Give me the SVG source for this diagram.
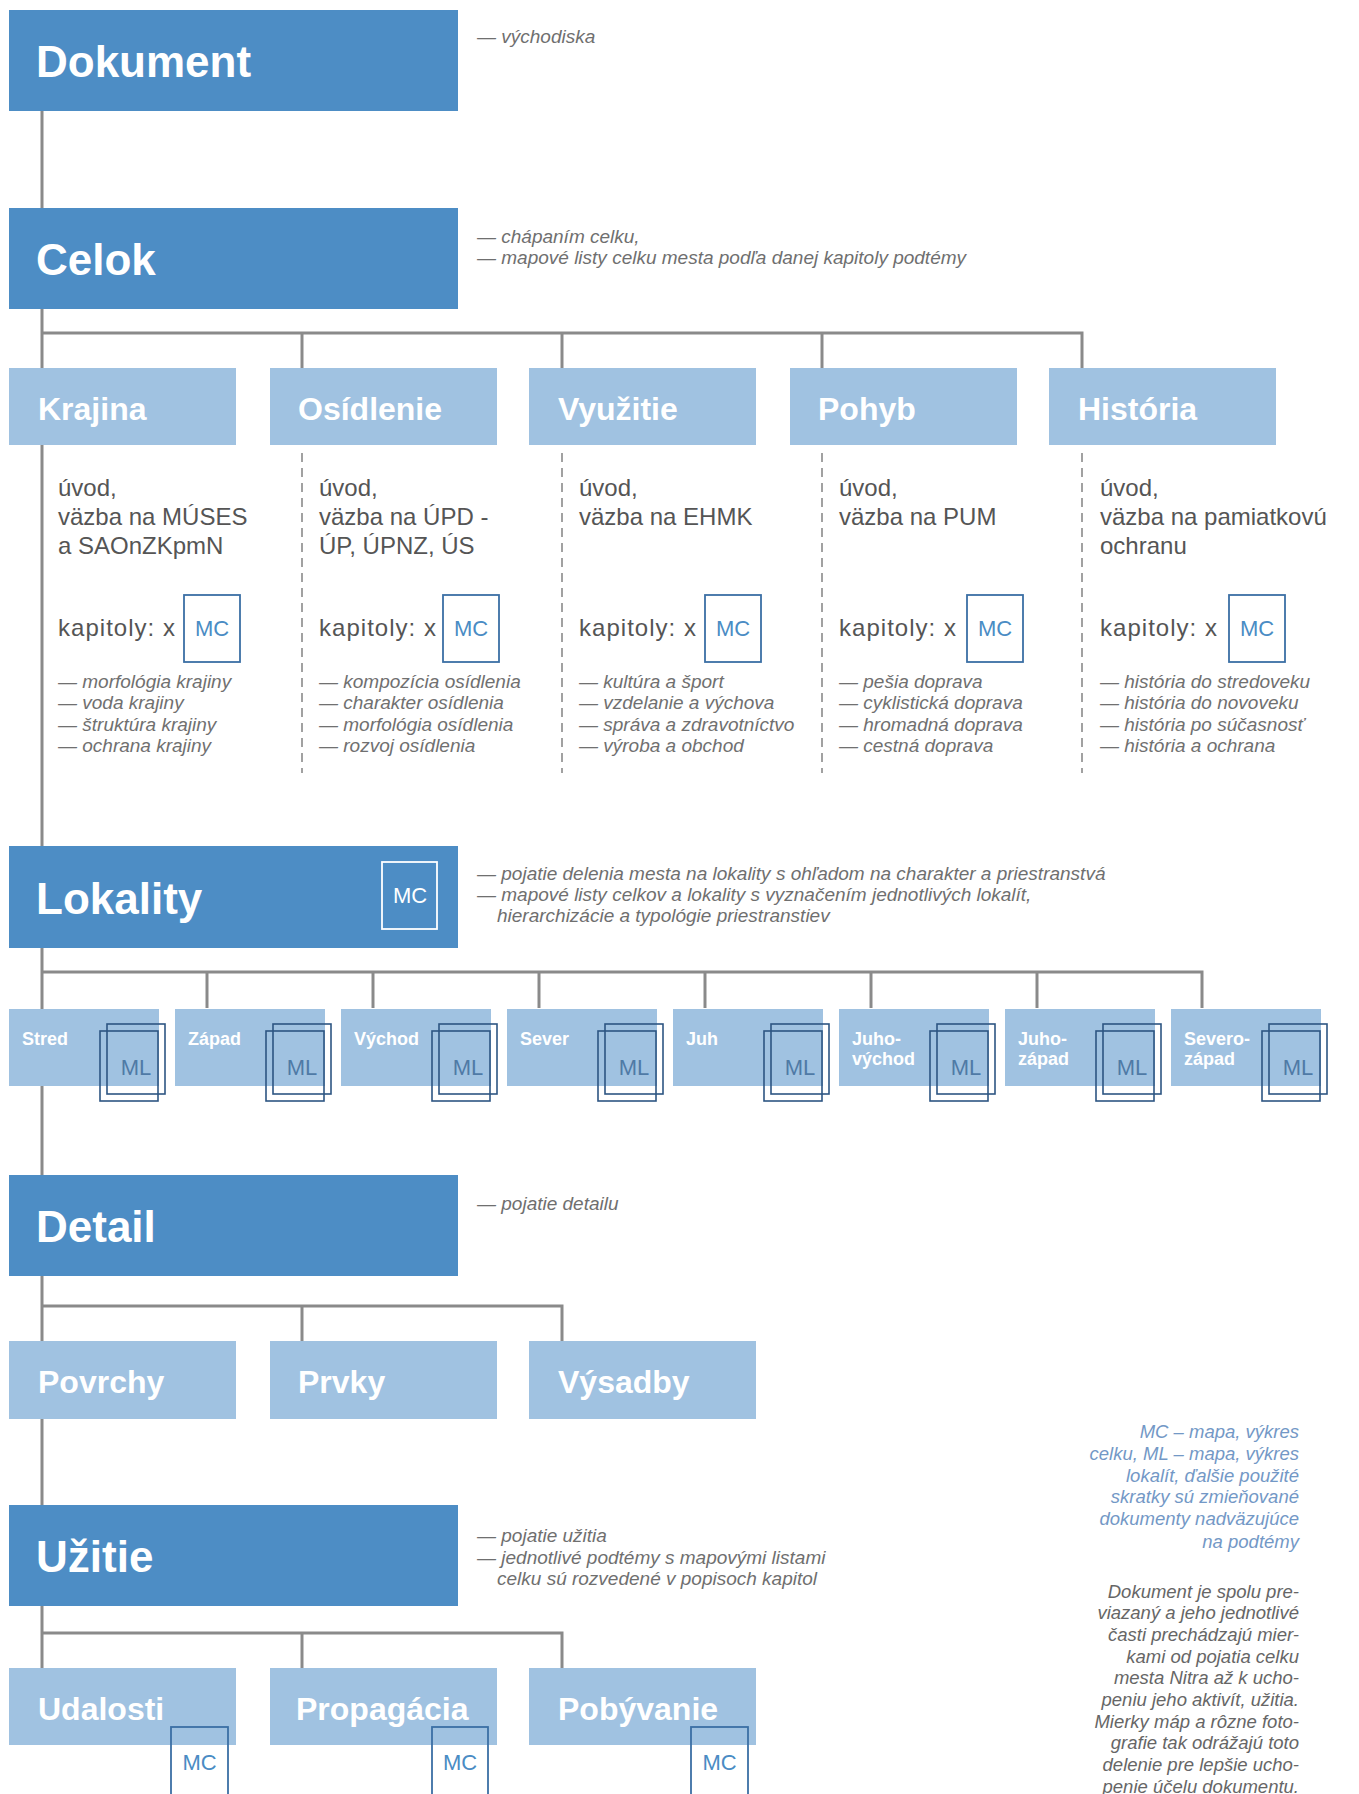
<svg xmlns="http://www.w3.org/2000/svg" width="1359" height="1794" viewBox="0 0 1359 1794">
<style>
.main{fill:#4d8dc5}
.sub{fill:#a0c2e1}
.t1{font-family:"Liberation Sans",Arial,sans-serif;font-weight:bold;font-size:44px;fill:#ffffff}
.t2{font-family:"Liberation Sans",Arial,sans-serif;font-weight:bold;font-size:32px;fill:#ffffff}
.t3{font-family:"Liberation Sans",Arial,sans-serif;font-weight:bold;font-size:18px;fill:#ffffff}
.ann{font-family:"Liberation Sans",Arial,sans-serif;font-style:italic;font-size:19px;fill:#6f6f6f}
.col{font-family:"Liberation Sans",Arial,sans-serif;font-size:24px;fill:#555555}
.li{font-family:"Liberation Sans",Arial,sans-serif;font-style:italic;font-size:19px;fill:#707070}
.mc{font-family:"Liberation Sans",Arial,sans-serif;font-size:22px;fill:#4a8cc4;text-anchor:middle}
.mcw{font-family:"Liberation Sans",Arial,sans-serif;font-size:22px;fill:#ffffff;text-anchor:middle}
.ml{font-family:"Liberation Sans",Arial,sans-serif;font-size:22px;fill:#4f7aa6;text-anchor:middle}
.mcb{fill:none;stroke:#3b6fa5;stroke-width:1.8}
.mlb{fill:none;stroke:#2d5583;stroke-width:1.6}
.ln{stroke:#8a8a8a;stroke-width:3;fill:none}
.dash{stroke:#8a8a8a;stroke-width:1.6;stroke-dasharray:9 6;fill:none}
.fn1{font-family:"Liberation Sans",Arial,sans-serif;font-style:italic;font-size:18.5px;fill:#7398c6;text-anchor:end}
.fn2{font-family:"Liberation Sans",Arial,sans-serif;font-style:italic;font-size:18.5px;fill:#666666;text-anchor:end}
</style>
<rect width="1359" height="1794" fill="#ffffff"/>
<g id="connectors">
<line class="ln" x1="42" y1="111" x2="42" y2="1668"/>
<polyline class="ln" points="42,333 1082,333 1082,368"/>
<line class="ln" x1="302" y1="333" x2="302" y2="368"/>
<line class="ln" x1="562" y1="333" x2="562" y2="368"/>
<line class="ln" x1="822" y1="333" x2="822" y2="368"/>
<line class="dash" x1="302" y1="453" x2="302" y2="773"/>
<line class="dash" x1="562" y1="453" x2="562" y2="773"/>
<line class="dash" x1="822" y1="453" x2="822" y2="773"/>
<line class="dash" x1="1082" y1="453" x2="1082" y2="773"/>
<polyline class="ln" points="42,972 1202,972 1202,1008"/>
<line class="ln" x1="207" y1="972" x2="207" y2="1008"/>
<line class="ln" x1="373" y1="972" x2="373" y2="1008"/>
<line class="ln" x1="539" y1="972" x2="539" y2="1008"/>
<line class="ln" x1="705" y1="972" x2="705" y2="1008"/>
<line class="ln" x1="871" y1="972" x2="871" y2="1008"/>
<line class="ln" x1="1037" y1="972" x2="1037" y2="1008"/>
<polyline class="ln" points="42,1306 562,1306 562,1341"/>
<line class="ln" x1="302" y1="1306" x2="302" y2="1341"/>
<polyline class="ln" points="42,1633 562,1633 562,1668"/>
<line class="ln" x1="302" y1="1633" x2="302" y2="1668"/>
</g>
<g id="dokument">
<rect class="main" x="9" y="10" width="449" height="101"/>
<text class="t1" x="36" y="77">Dokument</text>
<text class="ann" x="477" y="43">— východiska</text>
</g>
<g id="celok">
<rect class="main" x="9" y="208" width="449" height="101"/>
<text class="t1" x="36" y="275">Celok</text>
<text class="ann" x="477" y="243">— chápaním celku,</text>
<text class="ann" x="477" y="264">— mapové listy celku mesta podľa danej kapitoly podtémy</text>
</g>
<g id="krajina">
<rect class="sub" x="9" y="368" width="227" height="77"/>
<text class="t2" x="38" y="420">Krajina</text>
<text class="col" x="58" y="496">úvod,</text>
<text class="col" x="58" y="525">väzba na MÚSES</text>
<text class="col" x="58" y="554">a SAOnZKpmN</text>
<text class="col" x="58" y="636" textLength="117">kapitoly: x</text>
<rect class="mcb" x="184" y="595" width="56" height="67"/>
<text class="mc" x="212" y="636">MC</text>
<text class="li" x="58" y="688">— morfológia krajiny</text>
<text class="li" x="58" y="709">— voda krajiny</text>
<text class="li" x="58" y="731">— štruktúra krajiny</text>
<text class="li" x="58" y="752">— ochrana krajiny</text>
</g>
<g id="osidlenie">
<rect class="sub" x="270" y="368" width="227" height="77"/>
<text class="t2" x="298" y="420">Osídlenie</text>
<text class="col" x="319" y="496">úvod,</text>
<text class="col" x="319" y="525">väzba na ÚPD -</text>
<text class="col" x="319" y="554">ÚP, ÚPNZ, ÚS</text>
<text class="col" x="319" y="636" textLength="117">kapitoly: x</text>
<rect class="mcb" x="443" y="595" width="56" height="67"/>
<text class="mc" x="471" y="636">MC</text>
<text class="li" x="319" y="688">— kompozícia osídlenia</text>
<text class="li" x="319" y="709">— charakter osídlenia</text>
<text class="li" x="319" y="731">— morfológia osídlenia</text>
<text class="li" x="319" y="752">— rozvoj osídlenia</text>
</g>
<g id="vyuzitie">
<rect class="sub" x="529" y="368" width="227" height="77"/>
<text class="t2" x="558" y="420">Využitie</text>
<text class="col" x="579" y="496">úvod,</text>
<text class="col" x="579" y="525">väzba na EHMK</text>
<text class="col" x="579" y="636" textLength="117">kapitoly: x</text>
<rect class="mcb" x="705" y="595" width="56" height="67"/>
<text class="mc" x="733" y="636">MC</text>
<text class="li" x="579" y="688">— kultúra a šport</text>
<text class="li" x="579" y="709">— vzdelanie a výchova</text>
<text class="li" x="579" y="731">— správa a zdravotníctvo</text>
<text class="li" x="579" y="752">— výroba a obchod</text>
</g>
<g id="pohyb">
<rect class="sub" x="790" y="368" width="227" height="77"/>
<text class="t2" x="818" y="420">Pohyb</text>
<text class="col" x="839" y="496">úvod,</text>
<text class="col" x="839" y="525">väzba na PUM</text>
<text class="col" x="839" y="636" textLength="117">kapitoly: x</text>
<rect class="mcb" x="967" y="595" width="56" height="67"/>
<text class="mc" x="995" y="636">MC</text>
<text class="li" x="839" y="688">— pešia doprava</text>
<text class="li" x="839" y="709">— cyklistická doprava</text>
<text class="li" x="839" y="731">— hromadná doprava</text>
<text class="li" x="839" y="752">— cestná doprava</text>
</g>
<g id="historia">
<rect class="sub" x="1049" y="368" width="227" height="77"/>
<text class="t2" x="1078" y="420">História</text>
<text class="col" x="1100" y="496">úvod,</text>
<text class="col" x="1100" y="525">väzba na pamiatkovú</text>
<text class="col" x="1100" y="554">ochranu</text>
<text class="col" x="1100" y="636" textLength="117">kapitoly: x</text>
<rect class="mcb" x="1229" y="595" width="56" height="67"/>
<text class="mc" x="1257" y="636">MC</text>
<text class="li" x="1100" y="688">— história do stredoveku</text>
<text class="li" x="1100" y="709">— história do novoveku</text>
<text class="li" x="1100" y="731">— história po súčasnosť</text>
<text class="li" x="1100" y="752">— história a ochrana</text>
</g>
<g id="lokality">
<rect class="main" x="9" y="846" width="449" height="102"/>
<text class="t1" x="36" y="914">Lokality</text>
<rect x="382" y="862" width="55" height="67" fill="none" stroke="#ffffff" stroke-width="1.8"/>
<text class="mcw" x="410" y="903">MC</text>
<text class="ann" x="477" y="880">— pojatie delenia mesta na lokality s ohľadom na charakter a priestranstvá</text>
<text class="ann" x="477" y="901">— mapové listy celkov a lokality s vyznačením jednotlivých lokalít,</text>
<text class="ann" x="497" y="922">hierarchizácie a typológie priestranstiev</text>
</g>
<g id="stred">
<rect class="sub" x="9" y="1009" width="150" height="77"/>
<text class="t3" x="22" y="1045">Stred</text>
<rect class="mlb" x="100" y="1031" width="58" height="70"/>
<rect class="mlb" x="107" y="1024" width="58" height="70"/>
<text class="ml" x="136" y="1075">ML</text>
</g>
<g id="zapad">
<rect class="sub" x="175" y="1009" width="150" height="77"/>
<text class="t3" x="188" y="1045">Západ</text>
<rect class="mlb" x="266" y="1031" width="58" height="70"/>
<rect class="mlb" x="273" y="1024" width="58" height="70"/>
<text class="ml" x="302" y="1075">ML</text>
</g>
<g id="vychod">
<rect class="sub" x="341" y="1009" width="150" height="77"/>
<text class="t3" x="354" y="1045">Východ</text>
<rect class="mlb" x="432" y="1031" width="58" height="70"/>
<rect class="mlb" x="439" y="1024" width="58" height="70"/>
<text class="ml" x="468" y="1075">ML</text>
</g>
<g id="sever">
<rect class="sub" x="507" y="1009" width="150" height="77"/>
<text class="t3" x="520" y="1045">Sever</text>
<rect class="mlb" x="598" y="1031" width="58" height="70"/>
<rect class="mlb" x="605" y="1024" width="58" height="70"/>
<text class="ml" x="634" y="1075">ML</text>
</g>
<g id="juh">
<rect class="sub" x="673" y="1009" width="150" height="77"/>
<text class="t3" x="686" y="1045">Juh</text>
<rect class="mlb" x="764" y="1031" width="58" height="70"/>
<rect class="mlb" x="771" y="1024" width="58" height="70"/>
<text class="ml" x="800" y="1075">ML</text>
</g>
<g id="juhovychod">
<rect class="sub" x="839" y="1009" width="150" height="77"/>
<text class="t3" x="852" y="1045">Juho-</text>
<text class="t3" x="852" y="1065">východ</text>
<rect class="mlb" x="930" y="1031" width="58" height="70"/>
<rect class="mlb" x="937" y="1024" width="58" height="70"/>
<text class="ml" x="966" y="1075">ML</text>
</g>
<g id="juhozapad">
<rect class="sub" x="1005" y="1009" width="150" height="77"/>
<text class="t3" x="1018" y="1045">Juho-</text>
<text class="t3" x="1018" y="1065">západ</text>
<rect class="mlb" x="1096" y="1031" width="58" height="70"/>
<rect class="mlb" x="1103" y="1024" width="58" height="70"/>
<text class="ml" x="1132" y="1075">ML</text>
</g>
<g id="severozapad">
<rect class="sub" x="1171" y="1009" width="150" height="77"/>
<text class="t3" x="1184" y="1045">Severo-</text>
<text class="t3" x="1184" y="1065">západ</text>
<rect class="mlb" x="1262" y="1031" width="58" height="70"/>
<rect class="mlb" x="1269" y="1024" width="58" height="70"/>
<text class="ml" x="1298" y="1075">ML</text>
</g>
<g id="detail">
<rect class="main" x="9" y="1175" width="449" height="101"/>
<text class="t1" x="36" y="1242">Detail</text>
<text class="ann" x="477" y="1210">— pojatie detailu</text>
</g>
<g id="povrchy">
<rect class="sub" x="9" y="1341" width="227" height="78"/>
<text class="t2" x="38" y="1393">Povrchy</text>
</g>
<g id="prvky">
<rect class="sub" x="270" y="1341" width="227" height="78"/>
<text class="t2" x="298" y="1393">Prvky</text>
</g>
<g id="vysadby">
<rect class="sub" x="529" y="1341" width="227" height="78"/>
<text class="t2" x="558" y="1393">Výsadby</text>
</g>
<g id="uzitie">
<rect class="main" x="9" y="1505" width="449" height="101"/>
<text class="t1" x="36" y="1572">Užitie</text>
<text class="ann" x="477" y="1542">— pojatie užitia</text>
<text class="ann" x="477" y="1564">— jednotlivé podtémy s mapovými listami</text>
<text class="ann" x="497" y="1585">celku sú rozvedené v popisoch kapitol</text>
</g>
<g id="udalosti">
<rect class="sub" x="9" y="1668" width="227" height="77"/>
<text class="t2" x="38" y="1720">Udalosti</text>
<rect class="mcb" x="171" y="1727" width="57" height="72"/>
<text class="mc" x="199.5" y="1770">MC</text>
</g>
<g id="propagacia">
<rect class="sub" x="270" y="1668" width="227" height="77"/>
<text class="t2" x="296" y="1720">Propagácia</text>
<rect class="mcb" x="432" y="1727" width="56" height="72"/>
<text class="mc" x="460" y="1770">MC</text>
</g>
<g id="pobyvanie">
<rect class="sub" x="529" y="1668" width="227" height="77"/>
<text class="t2" x="558" y="1720">Pobývanie</text>
<rect class="mcb" x="691" y="1727" width="57" height="72"/>
<text class="mc" x="719.5" y="1770">MC</text>
</g>
<g id="footnote">
<text class="fn1" x="1299" y="1438">MC – mapa, výkres</text>
<text class="fn1" x="1299" y="1460">celku, ML – mapa, výkres</text>
<text class="fn1" x="1299" y="1482">lokalít, ďalšie použité</text>
<text class="fn1" x="1299" y="1503">skratky sú zmieňované</text>
<text class="fn1" x="1299" y="1525">dokumenty nadväzujúce</text>
<text class="fn1" x="1299" y="1548">na podtémy</text>
<text class="fn2" x="1299" y="1598">Dokument je spolu pre-</text>
<text class="fn2" x="1299" y="1619">viazaný a jeho jednotlivé</text>
<text class="fn2" x="1299" y="1641">časti prechádzajú mier-</text>
<text class="fn2" x="1299" y="1663">kami od pojatia celku</text>
<text class="fn2" x="1299" y="1684">mesta Nitra až k ucho-</text>
<text class="fn2" x="1299" y="1706">peniu jeho aktivít, užitia.</text>
<text class="fn2" x="1299" y="1728">Mierky máp a rôzne foto-</text>
<text class="fn2" x="1299" y="1749">grafie tak odrážajú toto</text>
<text class="fn2" x="1299" y="1771">delenie pre lepšie ucho-</text>
<text class="fn2" x="1299" y="1793">penie účelu dokumentu.</text>
</g>
</svg>
